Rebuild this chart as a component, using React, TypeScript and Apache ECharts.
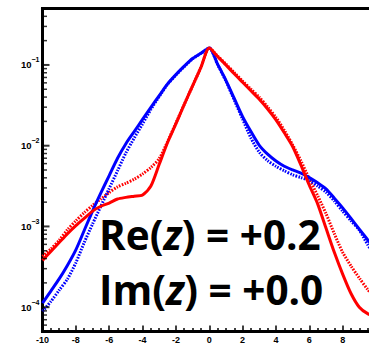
import React, { useEffect, useRef } from 'react';
import * as echarts from 'echarts';

// x positions (shared by all curves)
const xValues = [
  -10, -9.5, -9, -8.5, -8, -7.5, -7, -6.5, -6, -5.5, -5, -4.5, -4, -3.5, -3, -2.5, -2, -1.5, -1, -0.5,
  0, 0.5, 1, 1.5, 2, 2.5, 3, 3.5, 4, 4.5, 5, 5.5, 6, 6.5, 7, 7.5, 8, 8.5, 9, 9.5, 10,
];

// log10 of the plotted values
const redSolidLog10 = [
  -3.42, -3.31, -3.2, -3.09, -2.99, -2.9, -2.81, -2.75, -2.71, -2.66, -2.64, -2.625, -2.61, -2.5, -2.23, -1.96, -1.73, -1.49, -1.26, -1.03,
  -0.79, -0.895, -1.0, -1.11, -1.215, -1.32, -1.425, -1.545, -1.68, -1.84, -2.01, -2.24, -2.49, -2.72, -3.02, -3.32, -3.59, -3.83, -4.0, -4.08, -4.12,
];
const redDottedLog10 = [
  -3.37, -3.28, -3.17, -3.04, -2.93, -2.83, -2.74, -2.66, -2.58, -2.51, -2.465, -2.415, -2.35, -2.27, -2.16, -1.95, -1.72, -1.49, -1.26, -1.03,
  -0.79, -0.89, -0.99, -1.095, -1.2, -1.3, -1.4, -1.52, -1.65, -1.81, -1.99, -2.19, -2.41, -2.62, -2.84, -3.09, -3.32, -3.49, -3.64, -3.78, -3.9,
];
const blueSolidLog10 = [
  -3.95, -3.8, -3.65, -3.48, -3.29, -3.05, -2.81, -2.585, -2.37, -2.155, -1.975, -1.825, -1.675, -1.525, -1.38, -1.235, -1.12, -1.015, -0.92, -0.855,
  -0.79, -0.99, -1.19, -1.415, -1.64, -1.825, -1.995, -2.105, -2.19, -2.255, -2.3, -2.34, -2.395, -2.46, -2.535, -2.65, -2.77, -2.9, -3.035, -3.165, -3.29,
];
const blueDottedLog10 = [
  -4.05, -3.93, -3.79, -3.65, -3.45, -3.2, -2.97, -2.75, -2.53, -2.31, -2.09, -1.905, -1.73, -1.55, -1.39, -1.24, -1.125, -1.02, -0.925, -0.857,
  -0.79, -0.995, -1.2, -1.435, -1.67, -1.905, -2.08, -2.185, -2.255, -2.31, -2.36, -2.395, -2.43, -2.5, -2.575, -2.685, -2.81, -2.93, -3.045, -3.225, -3.38,
];

const yMin = 5e-5;
const yMax = 0.5;
const majorDecades = [-4, -3, -2, -1];
const minorMultipliers = [2, 3, 4, 5, 6, 7, 8, 9];
const annotationLines = [
  { pre: 'Re(', var: 'z', post: ') = +0.2' },
  { pre: 'Im(', var: 'z', post: ') = +0.0' },
];

const toPoints = (logs: number[]) => xValues.map((x, i) => [x, Math.pow(10, logs[i])]);

export default function App() {
  const ref = useRef<HTMLDivElement>(null);
  useEffect(() => {
    if (!ref.current) return;
    const chart = echarts.init(ref.current, undefined, { renderer: 'svg' });

    const majorTicks: number[][] = majorDecades.map((d) => [-10, Math.pow(10, d)]);
    const minorTicks: number[][] = [];
    for (let d = -5; d <= -1; d++) {
      for (const m of minorMultipliers) {
        const v = m * Math.pow(10, d);
        if (v >= yMin && v <= yMax) minorTicks.push([-10, v]);
      }
    }

    const lineBase = (name: string, color: string, logs: number[], dotted: boolean, z: number) => ({
      name,
      type: 'line',
      data: toPoints(logs),
      showSymbol: false,
      smooth: 0.25,
      z,
      lineStyle: { color, width: 3, type: dotted ? [1.6, 1.3] : 'solid' },
    });

    const labelFont = 'Liberation Sans, Arial, sans-serif';

    chart.setOption({
      animation: false,
      backgroundColor: '#ffffff',
      grid: {
        left: 42.5,
        top: 8.5,
        right: -7,
        bottom: 12.5,
        show: true,
        borderColor: '#000',
        borderWidth: 3,
        containLabel: false,
        outerBoundsMode: 'none',
      },
      xAxis: {
        type: 'value',
        min: -10,
        max: 10,
        interval: 2,
        axisLine: { show: true, onZero: false, lineStyle: { color: '#000', width: 3 } },
        axisTick: { show: true, inside: true, length: 6, lineStyle: { color: '#000', width: 1.5 } },
        minorTick: { show: true, splitNumber: 4, length: 3.5, lineStyle: { color: '#000', width: 1.5 } },
        splitLine: { show: false },
        axisLabel: {
          margin: 4,
          fontSize: 9,
          fontWeight: 'bold',
          fontFamily: labelFont,
          color: '#000',
          showMaxLabel: false,
        },
      },
      yAxis: {
        type: 'log',
        logBase: 10,
        min: yMin,
        max: yMax,
        axisLine: { show: true, onZero: false, lineStyle: { color: '#000', width: 3 } },
        axisTick: { show: false },
        splitLine: { show: false },
        axisLabel: {
          margin: 3,
          formatter: (v: number) => {
            const lg = Math.log10(v);
            const e = Math.round(lg);
            if (Math.abs(lg - e) > 1e-6) return '';
            return `{b|10}{s|−${Math.abs(e)}}`;
          },
          rich: {
            b: { fontSize: 9.5, fontWeight: 'bold', fontFamily: labelFont, color: '#000' },
            s: { fontSize: 7, fontWeight: 'bold', fontFamily: labelFont, color: '#000', padding: [0, 0, 10, 0] },
          },
        },
      },
      series: [
        lineBase('Red dotted', '#ff0000', redDottedLog10, true, 2),
        lineBase('Blue dotted', '#0000ff', blueDottedLog10, true, 3),
        lineBase('Blue solid', '#0000ff', blueSolidLog10, false, 4),
        lineBase('Red solid', '#ff0000', redSolidLog10, false, 5),
        {
          type: 'scatter',
          data: majorTicks,
          symbol: 'rect',
          symbolSize: [7, 2],
          symbolOffset: [3.5, 0],
          itemStyle: { color: '#000' },
          clip: false,
          silent: true,
          z: 6,
        },
        {
          type: 'scatter',
          data: minorTicks,
          symbol: 'rect',
          symbolSize: [4.5, 1.5],
          symbolOffset: [2.25, 0],
          itemStyle: { color: '#000' },
          clip: false,
          silent: true,
          z: 6,
        },
      ],
      graphic: annotationLines.map((ln, i) => ({
        type: 'text',
        x: 99,
        y: 234 + i * 55,
        z: 100,
        style: {
          text: `{n|${ln.pre}}{i|${ln.var}}{n|${ln.post}}`,
          verticalAlign: 'middle',
          rich: {
            n: { fontSize: 40.5, fontWeight: 'bold', fontFamily: 'Open Sans', fill: '#000' },
            i: { fontSize: 40.5, fontWeight: 'bold', fontStyle: 'italic', fontFamily: 'Open Sans', fill: '#000' },
          },
        },
      })),
    });
    return () => chart.dispose();
  }, []);
  return (
    <div
      ref={ref}
      style={{ position: 'fixed', left: 0, top: 0, width: 369, height: 344, overflow: 'hidden', background: '#fff' }}
    />
  );
}
